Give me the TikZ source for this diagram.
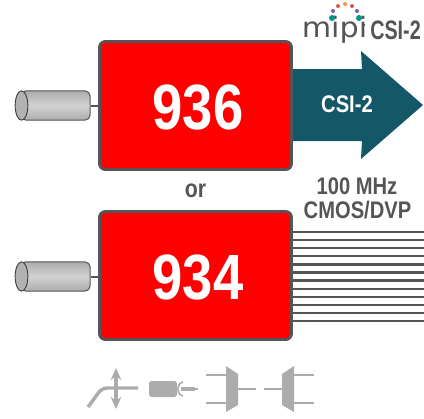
\documentclass[tikz,border=0pt]{standalone}
\usepackage{fontspec}
\setmainfont{Liberation Sans}
\newfontfamily\logofont{DejaVu Sans}
\usetikzlibrary{positioning,arrows.meta,shapes.geometric}
\definecolor{chipcol}{RGB}{255,0,0}
\definecolor{edgecol}{RGB}{85,85,85}
\definecolor{arrowcol}{RGB}{20,88,104}
\definecolor{iconcol}{RGB}{172,172,172}
\definecolor{dotteal}{RGB}{0,150,136}
\definecolor{dotpurple}{RGB}{128,90,170}
\definecolor{dotred}{RGB}{225,85,70}
\definecolor{dotorange}{RGB}{245,150,70}
\newcommand{\condtxt}[2][.84]{\scalebox{#1}[1]{#2}}
\begin{document}
\begin{tikzpicture}[
  x=.75pt,y=-.75pt,
  chip/.style={rectangle,rounded corners=4.5pt,draw=edgecol,fill=chipcol,line width=2.2pt,
               minimum width=144pt,minimum height=96pt,inner sep=0pt},
  partno/.style={text=white,inner sep=0pt,font=\fontsize{48}{50}\selectfont\bfseries},
  lens/.style={rectangle,rounded corners=4pt,draw=edgecol,line width=.8pt,
               minimum width=52pt,minimum height=22pt,inner sep=0pt,
               top color=gray!65,bottom color=gray!65,middle color=gray!35},
  lensend/.style={ellipse,draw=black!75,fill=gray!60,line width=.7pt,
               minimum width=9.5pt,minimum height=22pt,inner sep=0pt},
  stub/.style={edgecol,line width=1.5pt},
  wire/.style={edgecol,line width=1.7pt},
  label/.style={font=\fontsize{18}{19}\selectfont\bfseries,text=edgecol,inner sep=0pt},
  dot/.style={circle,fill=#1,inner sep=0pt,minimum size=3pt},
  icon/.style={iconcol,line width=2.2pt},
  >=Stealth
]
\useasboundingbox (0,0) rectangle (424,418);
% arrow sits behind the upper chip
\fill[arrowcol] (280,69) -- (362,69) -- (361,51) -- (423,105) -- (361,159) -- (362,141) -- (280,141) -- cycle;
\node[chip] (chipa) at (195.5,105.5) {};
\node[chip] (chipb) at (195.5,275.5) {};
\node[partno] (parta) at (198,107.5) {\condtxt[.85]{936}};
\node[partno] (partb) at (198,277.5) {\condtxt[.85]{934}};
\node[font=\fontsize{18}{19}\selectfont\bfseries,text=white,inner sep=0pt] (csiin) at (347,104) {\condtxt{CSI-2}};
\node[lens] (lensa) at (55.5,105.5) {};
\node[lens] (lensb) at (55.5,276.5) {};
\node[lensend] (enda) at (21.5,105.5) {};
\node[lensend] (endb) at (21.5,276.5) {};
\draw[stub] (lensa.east) -- (chipa.west |- lensa.east);
\draw[stub] (lensb.east) -- (chipb.west |- lensb.east);
% parallel outputs
\foreach \i in {0,...,11}{
  \coordinate (w\i) at (424,232+8.1*\i);
  \draw[wire] (chipb.east |- w\i) -- (w\i);
}
\node[font=\fontsize{19}{21}\selectfont\bfseries,text=edgecol,inner sep=0pt] (ortxt) at (195.5,191) {\condtxt{or}};
\node[label] (mhz) at (357,186) {\condtxt{100 MHz}};
\node[label] (cmos) at (357.5,210) {\condtxt{CMOS/DVP}};
% logo
\node[font=\logofont\fontsize{21}{23}\selectfont,text=edgecol,inner sep=0pt,anchor=base] (mipi) at (334.5,37) {\scalebox{1.08}[1]{mipi}};
\node[label,anchor=base,font=\fontsize{20}{21}\selectfont\bfseries] (csilogo) at (395.5,39.5) {\condtxt[.74]{CSI-2}};
\node[dot=dotteal,minimum size=4.5pt] (da) at (332,18) {};
\node[dot=dotteal,minimum size=4.5pt] (db) at (359,18) {};
\node[dot=dotpurple] (dc) at (333,11) {};
\node[dot=dotpurple] (dd) at (357,11) {};
\node[dot=dotred] (de) at (338,6) {};
\node[dot=dotred] (df) at (352,6) {};
\node[dot=dotorange] (dg) at (345,4) {};
\node[dot=edgecol,minimum size=2pt] (dh) at (364,25) {};
% icons along the bottom
\draw[icon,line width=2.6pt,rounded corners=4pt] (88,407) -- (102,388) -- (138,388);
\draw[icon,line width=2.6pt,{Stealth[length=9pt,width=8pt]}-{Stealth[length=9pt,width=8pt]}] (116,368) -- (116,409);
\fill[iconcol,rounded corners=2pt] (149,381) rectangle (177,397);
\draw[iconcol,line width=1.2pt] (183,382) .. controls (176,384) and (176,394) .. (183,396);
\draw[iconcol,line width=3.2pt] (181,389) -- (195,389);
\draw[iconcol,line width=.8pt] (195,389) -- (198,389);
\fill[iconcol] (226,366) -- (238,374) -- (238,405) -- (226,412) -- cycle;
\draw[icon] (206,375) -- (226,375);
\draw[icon] (206,403) -- (226,403);
\draw[icon] (238,389) -- (256,389);
\fill[iconcol] (294,366) -- (282,374) -- (282,405) -- (294,412) -- cycle;
\draw[icon] (294,375) -- (314,375);
\draw[icon] (294,403) -- (314,403);
\draw[icon] (264,389) -- (282,389);
\end{tikzpicture}
\end{document}
